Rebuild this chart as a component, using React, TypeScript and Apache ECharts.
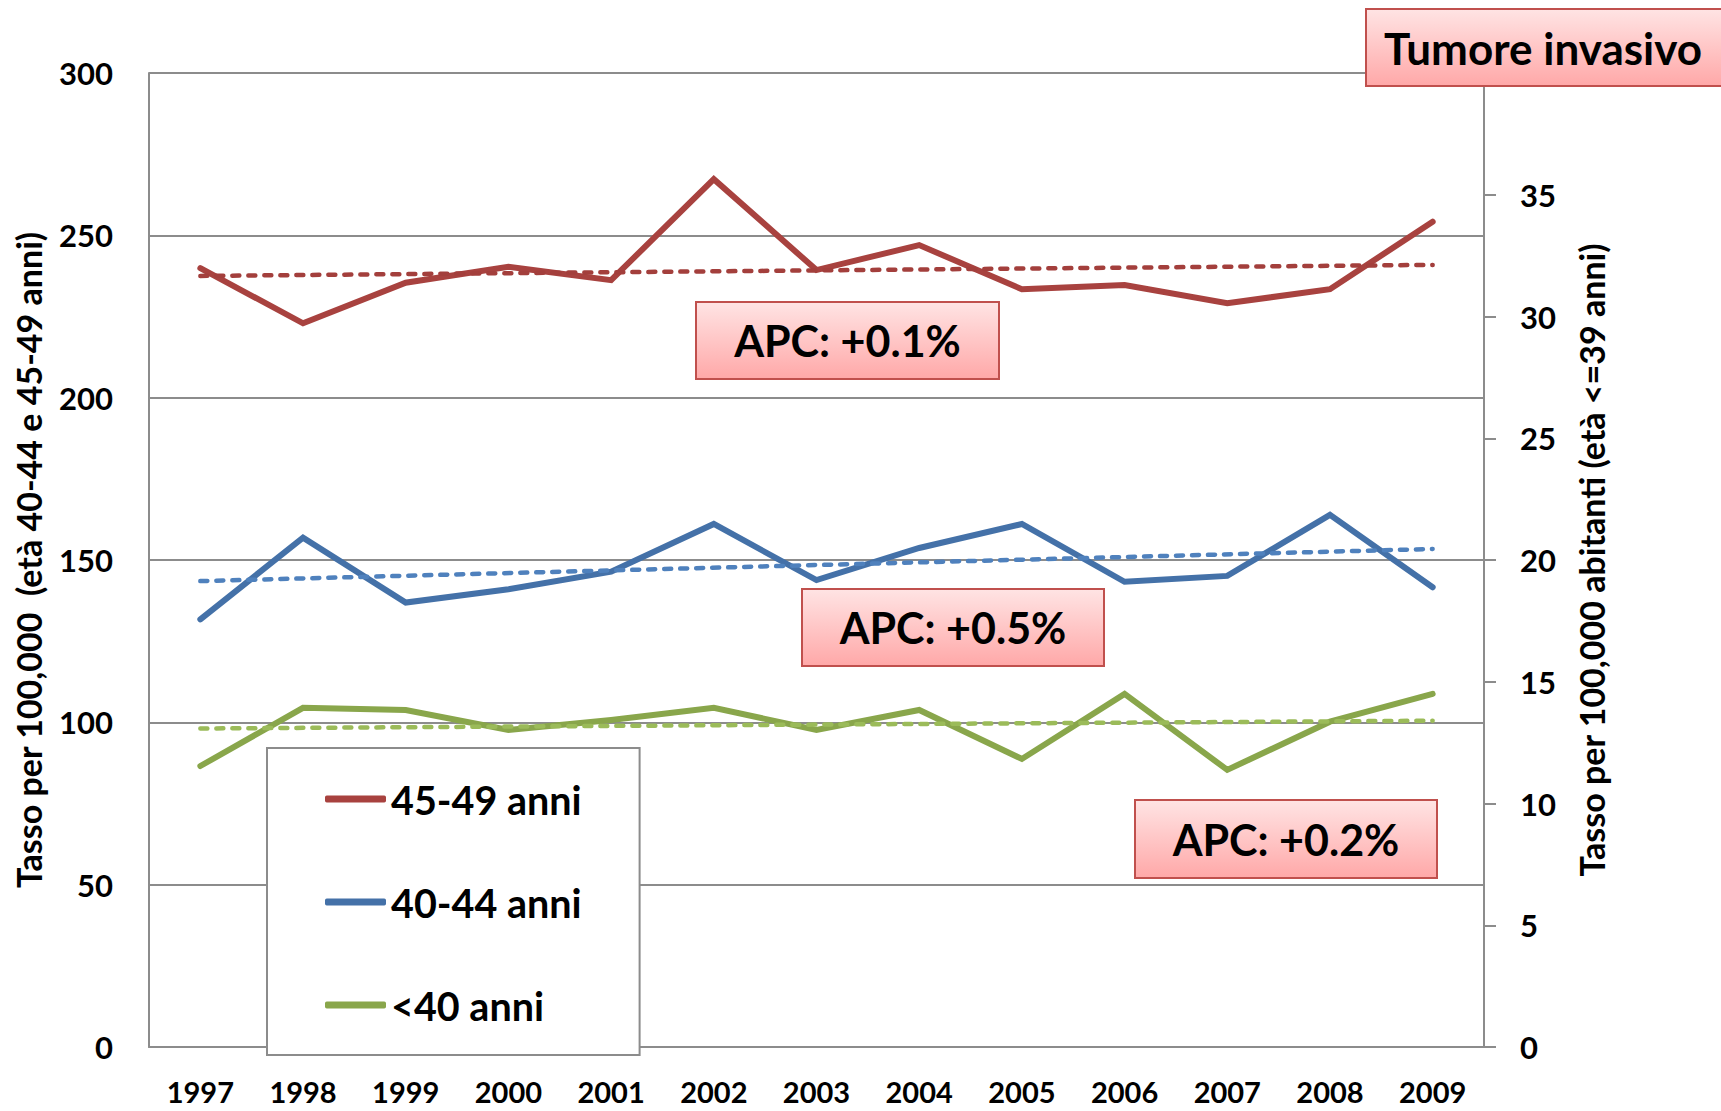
import React, { useEffect, useRef } from "react";
import * as echarts from "echarts";

const years = ["1997", "1998", "1999", "2000", "2001", "2002", "2003", "2004", "2005", "2006", "2007", "2008", "2009"];
// left axis (per 100,000)
const rate4549 = [239.9, 222.9, 235.4, 240.3, 236.2, 267.3, 239.3, 247.0, 233.4, 234.7, 229.1, 233.4, 254.2];
const rate4044 = [131.7, 156.9, 136.9, 141.0, 146.4, 161.1, 143.8, 153.7, 161.1, 143.3, 145.1, 163.9, 141.6];
// right axis (per 100,000, age <=39)
const rateUnder40 = [11.54, 13.93, 13.84, 13.02, 13.43, 13.93, 13.02, 13.84, 11.83, 14.5, 11.38, 13.36, 14.5];
// trend lines: values at first and last year
const trend4549 = [237.5, 240.9];
const trend4044 = [143.5, 153.4];
const trendUnder40 = [13.08, 13.4];

const seriesNames = ["45-49 anni", "40-44 anni", "<40 anni"];
const apcLabels = ["APC: +0.1%", "APC: +0.5%", "APC: +0.2%"];
const badgeLabel = "Tumore invasivo";
const leftAxisName = "Tasso per 100,000  (età 40-44 e 45-49 anni)";
const rightAxisName = "Tasso per 100,000 abitanti (età <=39 anni)";

const FONT = "Lato";
const GRAY = "#8c8c8c";

function pinkFill() {
  return new echarts.graphic.LinearGradient(0, 0, 0, 1, [
    { offset: 0, color: "#FFE4E4" },
    { offset: 1, color: "#FFA8A8" },
  ]);
}

function box(x: number, y: number, w: number, h: number, label: string, size: number, textX?: number) {
  return {
    type: "group",
    x,
    y,
    z: 100,
    children: [
      {
        type: "rect",
        shape: { x: 0, y: 0, width: w, height: h },
        style: { fill: pinkFill(), stroke: "#C0504D", lineWidth: 2 },
        z: 100,
      },
      {
        type: "text",
        x: textX !== undefined ? textX : w / 2,
        y: h / 2,
        z: 101,
        style: {
          text: label,
          fill: "#000",
          fontFamily: FONT,
          fontWeight: "bold",
          fontSize: size,
          align: textX !== undefined ? "left" : "center",
          verticalAlign: "middle",
        },
      },
    ],
  };
}

export default function App() {
  const ref = useRef<HTMLDivElement>(null);
  useEffect(() => {
    if (!ref.current) return;
    const chart = echarts.init(ref.current, undefined, { renderer: "svg" });
    const trendEnds = (v: number[]) => [
      [years[0], v[0]],
      [years[years.length - 1], v[1]],
    ];
    chart.setOption({
      animation: false,
      backgroundColor: "#fff",
      grid: { left: 149, right: 237, top: 73, bottom: 64, containLabel: false },
      legend: {
        data: seriesNames,
        orient: "vertical",
        left: 267,
        top: 748,
        padding: [31, 58, 30, 58],
        itemGap: 63,
        itemWidth: 61,
        itemHeight: 7,
        icon: "roundRect",
        backgroundColor: "#fff",
        borderColor: GRAY,
        borderWidth: 2,
        borderRadius: 0,
        textStyle: { fontFamily: FONT, fontWeight: "bold", fontSize: 39.5, color: "#000", lineHeight: 40 },
      },
      xAxis: {
        type: "category",
        data: years,
        boundaryGap: true,
        axisLine: { show: true, lineStyle: { color: GRAY, width: 2 } },
        axisTick: { show: false },
        axisLabel: { margin: 30, fontFamily: FONT, fontWeight: "bold", fontSize: 29, lineHeight: 29, color: "#000" },
        splitLine: { show: false },
      },
      yAxis: [
        {
          type: "value",
          min: 0,
          max: 300,
          interval: 50,
          position: "left",
          name: leftAxisName,
          nameLocation: "middle",
          nameRotate: 90,
          nameGap: 104,
          nameTextStyle: { fontFamily: FONT, fontWeight: "bold", fontSize: 34, color: "#000" },
          axisLine: { show: true, lineStyle: { color: GRAY, width: 2 } },
          axisTick: { show: false },
          axisLabel: { margin: 36, fontFamily: FONT, fontWeight: "bold", fontSize: 31, color: "#000" },
          splitLine: { show: true, lineStyle: { color: GRAY, width: 2 } },
        },
        {
          type: "value",
          min: 0,
          max: 40,
          interval: 5,
          position: "right",
          name: rightAxisName,
          nameLocation: "middle",
          nameRotate: 90,
          nameGap: 90,
          nameTextStyle: { fontFamily: FONT, fontWeight: "bold", fontSize: 34, color: "#000" },
          axisLine: { show: true, lineStyle: { color: GRAY, width: 2 } },
          axisTick: { show: true, length: 12, inside: false, lineStyle: { color: GRAY, width: 2 } },
          axisLabel: {
            margin: 36,
            fontFamily: FONT,
            fontWeight: "bold",
            fontSize: 31,
            color: "#000",
            formatter: (v: number) => (v >= 40 ? "" : String(v)),
          },
          splitLine: { show: false },
        },
      ],
      series: [
        {
          name: seriesNames[0],
          type: "line",
          data: rate4549,
          yAxisIndex: 0,
          symbol: "none",
          color: "#A8423F",
          lineStyle: { color: "#A8423F", width: 6, cap: "round", join: "miter" },
          z: 3,
        },
        {
          name: seriesNames[1],
          type: "line",
          data: rate4044,
          yAxisIndex: 0,
          symbol: "none",
          color: "#4471A8",
          lineStyle: { color: "#4471A8", width: 6, cap: "round", join: "miter" },
          z: 3,
        },
        {
          name: seriesNames[2],
          type: "line",
          data: rateUnder40,
          yAxisIndex: 1,
          symbol: "none",
          color: "#89A64B",
          lineStyle: { color: "#89A64B", width: 6, cap: "round", join: "miter" },
          z: 3,
        },
        {
          name: "trend 45-49",
          type: "line",
          data: trendEnds(trend4549),
          yAxisIndex: 0,
          symbol: "none",
          lineStyle: { color: "#A33F3C", width: 4.5, type: [7, 9], cap: "round" },
          z: 4,
        },
        {
          name: "trend 40-44",
          type: "line",
          data: trendEnds(trend4044),
          yAxisIndex: 0,
          symbol: "none",
          lineStyle: { color: "#4F81BD", width: 4.5, type: [7, 9], cap: "round" },
          z: 4,
        },
        {
          name: "trend <40",
          type: "line",
          data: trendEnds(trendUnder40),
          yAxisIndex: 1,
          symbol: "none",
          lineStyle: { color: "#9BBB59", width: 4.5, type: [7, 9], cap: "round" },
          z: 4,
        },
      ],
      graphic: [
        box(696, 302, 303, 77, apcLabels[0], 43),
        box(802, 589, 302, 77, apcLabels[1], 43),
        box(1135, 800, 302, 78, apcLabels[2], 43),
        box(1366, 9, 365, 77, badgeLabel, 44, 18),
      ],
    });
    return () => chart.dispose();
  }, []);
  return (
    <div
      ref={ref}
      style={{ position: "fixed", left: 0, top: 0, width: 1721, height: 1111, background: "#fff" }}
    />
  );
}
